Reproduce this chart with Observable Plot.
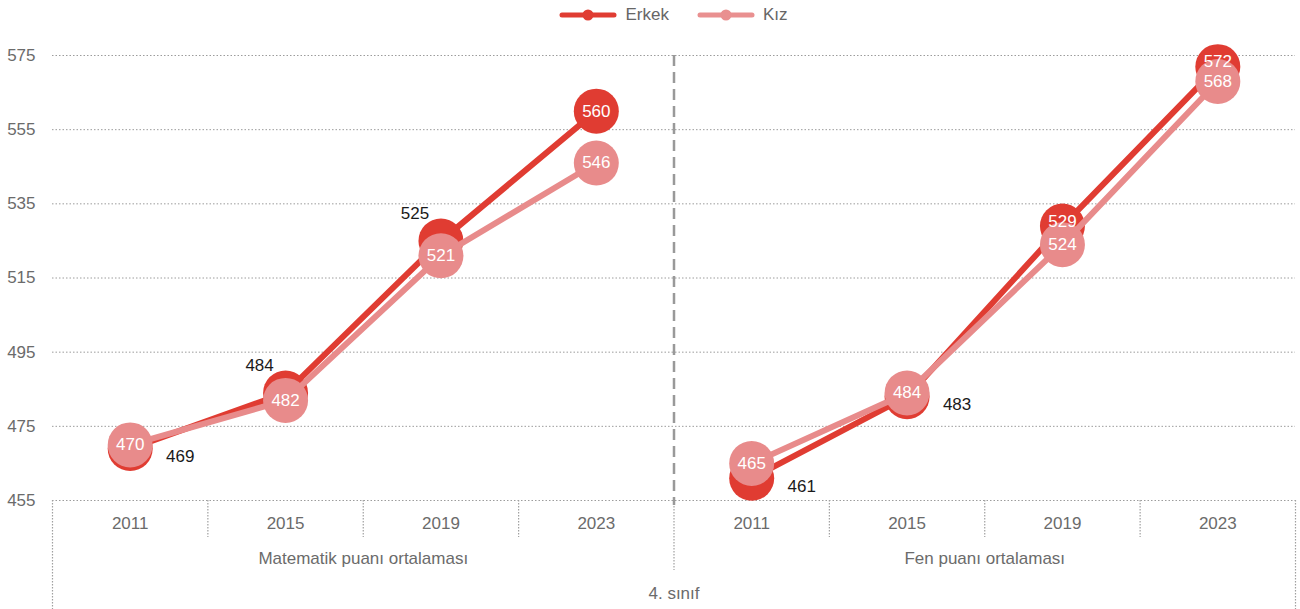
<!DOCTYPE html>
<html><head><meta charset="utf-8">
<script src="https://cdn.jsdelivr.net/npm/d3@7"></script>
<script src="https://cdn.jsdelivr.net/npm/@observablehq/plot@0.6"></script>
<style>
body{margin:0;background:#fff;font-family:"Liberation Sans Narrow","Arial Narrow","Liberation Sans",Arial,sans-serif;}
#legend{position:relative;height:30px;margin-left:52px;width:1243px;display:flex;justify-content:center;align-items:center;gap:28px;font-size:17px;color:#666;}
.item{display:flex;align-items:center;gap:8px;}
#chart svg{display:block;}
</style></head><body>
<div id="legend"></div><div id="chart"></div>
<script>
const years = ["2011", "2015", "2019", "2023"];
const groups = ["Matematik puanı ortalaması", "Fen puanı ortalaması"];
const grade = "4. sınıf";
const seriesNames = ["Erkek", "Kız"];
const erkekMat = [469, 484, 525, 560];
const kizMat = [470, 482, 521, 546];
const erkekFen = [461, 483, 529, 572];
const kizFen = [465, 484, 524, 568];
const yTicks = [455, 475, 495, 515, 535, 555, 575];
// label placement for Erkek values (Kız values are always centered in the dot)
const erkekLabelPos = ["right-below", "left-above", "left-above", "center", "right-below", "right-below", "top", "top"];

const colors = {"Erkek": "#E03C32", "Kız": "#E88B8B"};
const legendColors = {"Erkek": "#E03C32", "Kız": "#E99090"};
const offsets = {"center": [0, 0], "top": [0, -5], "right-below": [50, 8], "left-above": [-26, -27]};

// legend
const legend = document.getElementById("legend");
seriesNames.forEach(s => {
  const it = document.createElement("div");
  it.className = "item";
  it.innerHTML = `<svg width="58" height="14"><line x1="3" y1="7" x2="55" y2="7" stroke="${legendColors[s]}" stroke-width="5" stroke-linecap="round"/><circle cx="29" cy="7" r="5.5" fill="${legendColors[s]}"/></svg><span>${s}</span>`;
  legend.appendChild(it);
});

const valueSets = {"Erkek": [erkekMat, erkekFen], "Kız": [kizMat, kizFen]};
const rows = [];
groups.forEach((g, gi) => years.forEach((yr, yi) => {
  const idx = gi * years.length + yi;
  seriesNames.forEach(s => rows.push({
    series: s, group: g, year: yr, idx, value: valueSets[s][gi][yi],
    key: s + "|" + g,
    pos: s === "Erkek" ? erkekLabelPos[idx] : "center"
  }));
}));
const yearRows = rows.filter(d => d.series === seriesNames[0]);
const n = yearRows.length;
const groupRows = groups.map((g, gi) => ({group: g, x: gi * years.length + (years.length - 1) / 2}));
const innerBounds = yearRows.filter(d => d.idx % years.length !== 0).map(d => d.idx - 0.5);
const groupBounds = groups.slice(1).map((g, gi) => (gi + 1) * years.length - 0.5);
const outerBounds = [-0.5, n - 0.5];

const W = 1300, H = 579, mt = 25, mb = 109, ml = 52, mr = 5;
const frameH = H - mt - mb;
const gridStyle = {stroke: "#9c9c9c", strokeWidth: 1, strokeDasharray: "1.5,2"};
const tableStyle = {stroke: "#a0a0a0", strokeWidth: 1.2, strokeDasharray: "1.5,1.5"};
const tableText = {frameAnchor: "bottom", lineAnchor: "middle", fill: "#6b6b6b", fontSize: 17};

const marks = [
  Plot.ruleY(yTicks, gridStyle),
  Plot.ruleX(innerBounds, {...tableStyle, insetTop: frameH, insetBottom: -37}),
  Plot.ruleX(groupBounds, {...tableStyle, insetTop: frameH, insetBottom: -70}),
  Plot.ruleX(outerBounds, {...tableStyle, insetTop: frameH, insetBottom: -mb}),
  Plot.ruleX(groupBounds, {stroke: "#999", strokeWidth: 2.5, strokeDasharray: "11,6", insetBottom: -5}),
];
seriesNames.forEach(s => {
  const d = rows.filter(r => r.series === s);
  marks.push(Plot.line(d, {x: "idx", y: "value", z: "key", stroke: colors[s], strokeWidth: 6}));
  marks.push(Plot.dot(d, {x: "idx", y: "value", r: 22.5, fill: colors[s], stroke: "none"}));
});
Object.entries(offsets).forEach(([p, [dx, dy]]) => {
  const d = rows.filter(r => r.pos === p);
  marks.push(Plot.text(d, {x: "idx", y: "value", text: r => String(r.value), dx, dy,
    fill: p === "center" || p === "top" ? "#ffffff" : "#1a1a1a", fontSize: 17}));
});
marks.push(Plot.text(yearRows, {x: "idx", text: "year", dy: 23, ...tableText}));
marks.push(Plot.text(groupRows, {x: "x", text: "group", dy: 58, ...tableText}));
marks.push(Plot.text([grade], {x: () => (n - 1) / 2, text: d => d, dy: 93, ...tableText}));

const chart = Plot.plot({
  width: W, height: H,
  marginTop: mt, marginBottom: mb, marginLeft: ml, marginRight: mr,
  style: {fontFamily: '"Liberation Sans Narrow","Arial Narrow","Liberation Sans",Arial,sans-serif', fontSize: "17px", color: "#6b6b6b", background: "#fff", overflow: "visible"},
  x: {domain: [-0.5, n - 0.5], axis: null},
  y: {domain: [yTicks[0], yTicks[yTicks.length - 1]], ticks: yTicks, tickSize: 0, tickPadding: 17, label: null, tickFormat: d => String(d)},
  marks
});
document.getElementById("chart").appendChild(chart);
</script>
</body></html>
